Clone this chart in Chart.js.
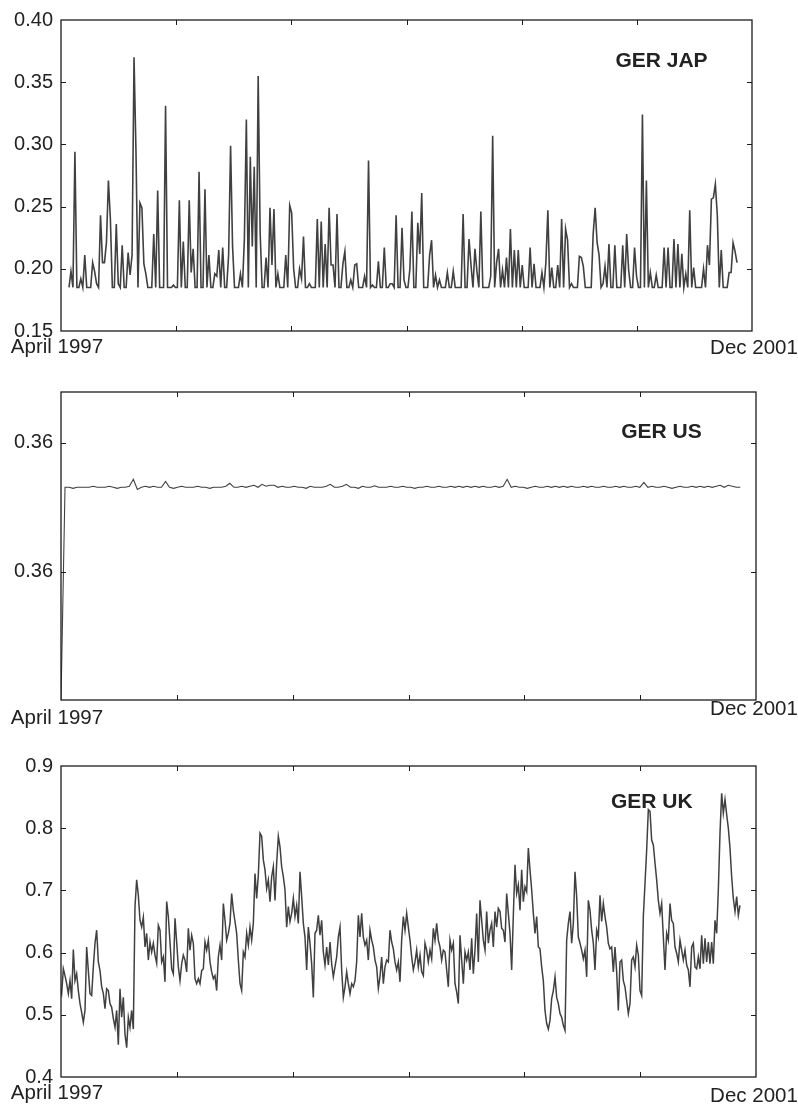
<!DOCTYPE html>
<html>
<head>
<meta charset="utf-8">
<script src="https://cdn.jsdelivr.net/npm/chart.js@4.4.1/dist/chart.umd.min.js"></script>
<style>
    html, body { margin: 0; padding: 0; background: #fff; }
    #page { position: relative; width: 798px; height: 1107px; }
    #page canvas { position: absolute; left: 0; }
</style>
</head>
<body>
<div id="page">
    <canvas id="jpChart" width="798" height="370" style="top:0"></canvas>
    <canvas id="usChart" width="798" height="360" style="top:370px"></canvas>
    <canvas id="ukChart" width="798" height="377" style="top:730px"></canvas>
</div>
<script>
// Correlation series, April 1997 - Dec 2001
const dateLabels = ['April 1997', 'Dec 2001'];

const jpTicks = [0.15, 0.20, 0.25, 0.30, 0.35, 0.40];
const usTicks = [0.3600, 0.3601];
const ukTicks = [0.4, 0.5, 0.6, 0.7, 0.8, 0.9];

const jpValues = [
    0.185,0.198,0.185,0.294,0.185,0.185,0.192,0.185,0.211,0.185,0.185,0.185,0.205,0.198,0.188,0.185,0.243,0.205,0.205,0.221,
    0.271,0.240,0.185,0.185,0.236,0.188,0.185,0.219,0.185,0.185,0.213,0.195,0.211,0.370,0.293,0.185,0.253,0.249,0.204,0.196,
    0.185,0.185,0.185,0.228,0.185,0.263,0.185,0.185,0.185,0.331,0.185,0.185,0.185,0.187,0.185,0.185,0.255,0.185,0.222,0.185,
    0.185,0.255,0.197,0.216,0.185,0.185,0.278,0.185,0.185,0.264,0.185,0.211,0.185,0.185,0.196,0.194,0.215,0.185,0.217,0.185,
    0.185,0.211,0.299,0.218,0.185,0.185,0.185,0.196,0.185,0.224,0.320,0.185,0.290,0.218,0.282,0.185,0.355,0.229,0.185,0.185,
    0.209,0.185,0.249,0.203,0.248,0.185,0.196,0.185,0.185,0.185,0.211,0.185,0.251,0.245,0.200,0.185,0.185,0.200,0.192,0.226,
    0.185,0.185,0.188,0.185,0.185,0.185,0.240,0.185,0.238,0.185,0.220,0.185,0.249,0.203,0.203,0.185,0.244,0.185,0.185,0.204,
    0.214,0.185,0.185,0.191,0.185,0.203,0.204,0.185,0.185,0.185,0.194,0.185,0.287,0.185,0.187,0.185,0.185,0.206,0.185,0.185,
    0.217,0.185,0.185,0.188,0.188,0.185,0.243,0.185,0.185,0.233,0.191,0.185,0.185,0.200,0.246,0.185,0.185,0.237,0.212,0.261,
    0.185,0.185,0.185,0.211,0.223,0.185,0.195,0.185,0.191,0.185,0.185,0.185,0.197,0.185,0.185,0.198,0.185,0.185,0.185,0.185,
    0.244,0.185,0.185,0.224,0.203,0.185,0.216,0.198,0.185,0.246,0.185,0.185,0.185,0.185,0.194,0.307,0.185,0.205,0.216,0.185,
    0.199,0.185,0.209,0.185,0.232,0.185,0.215,0.185,0.215,0.185,0.203,0.185,0.185,0.185,0.217,0.185,0.204,0.185,0.185,0.185,
    0.197,0.185,0.205,0.247,0.185,0.201,0.185,0.185,0.203,0.185,0.240,0.185,0.232,0.223,0.185,0.188,0.185,0.185,0.185,0.210,
    0.209,0.202,0.185,0.185,0.185,0.185,0.228,0.249,0.221,0.211,0.185,0.188,0.202,0.185,0.220,0.185,0.185,0.219,0.185,0.185,
    0.185,0.219,0.185,0.228,0.199,0.185,0.185,0.217,0.194,0.185,0.185,0.324,0.185,0.271,0.185,0.197,0.185,0.185,0.195,0.185,
    0.185,0.185,0.217,0.185,0.217,0.185,0.185,0.224,0.185,0.220,0.185,0.212,0.185,0.196,0.185,0.247,0.185,0.201,0.185,0.185,
    0.185,0.185,0.200,0.185,0.219,0.203,0.256,0.257,0.268,0.243,0.185,0.215,0.185,0.185,0.185,0.197,0.197,0.221,0.214,0.205
];

const usValues = [
    0.3599000,0.3600654,0.3600654,0.3600646,0.3600654,0.3600654,0.3600654,0.3600654,0.3600662,0.3600654,
    0.3600654,0.3600654,0.3600662,0.3600654,0.3600646,0.3600654,0.3600654,0.3600662,0.3600716,0.3600638,
    0.3600654,0.3600662,0.3600654,0.3600662,0.3600654,0.3600654,0.3600700,0.3600654,0.3600646,0.3600654,
    0.3600662,0.3600654,0.3600654,0.3600654,0.3600662,0.3600654,0.3600654,0.3600646,0.3600654,0.3600654,
    0.3600654,0.3600662,0.3600685,0.3600654,0.3600654,0.3600662,0.3600654,0.3600662,0.3600670,0.3600654,
    0.3600677,0.3600662,0.3600670,0.3600670,0.3600654,0.3600662,0.3600654,0.3600654,0.3600662,0.3600654,
    0.3600654,0.3600646,0.3600662,0.3600654,0.3600654,0.3600654,0.3600662,0.3600677,0.3600654,0.3600654,
    0.3600662,0.3600677,0.3600654,0.3600654,0.3600646,0.3600662,0.3600654,0.3600654,0.3600666,0.3600654,
    0.3600654,0.3600654,0.3600662,0.3600654,0.3600654,0.3600662,0.3600654,0.3600654,0.3600646,0.3600654,
    0.3600654,0.3600662,0.3600654,0.3600654,0.3600662,0.3600654,0.3600654,0.3600662,0.3600654,0.3600662,
    0.3600654,0.3600662,0.3600654,0.3600662,0.3600654,0.3600662,0.3600654,0.3600654,0.3600662,0.3600654,
    0.3600662,0.3600716,0.3600654,0.3600662,0.3600654,0.3600654,0.3600646,0.3600654,0.3600662,0.3600654,
    0.3600654,0.3600662,0.3600654,0.3600662,0.3600654,0.3600662,0.3600654,0.3600662,0.3600654,0.3600654,
    0.3600662,0.3600654,0.3600662,0.3600654,0.3600654,0.3600662,0.3600654,0.3600654,0.3600662,0.3600654,
    0.3600662,0.3600654,0.3600654,0.3600662,0.3600654,0.3600693,0.3600654,0.3600662,0.3600654,0.3600654,
    0.3600662,0.3600654,0.3600646,0.3600654,0.3600662,0.3600654,0.3600654,0.3600662,0.3600654,0.3600662,
    0.3600654,0.3600662,0.3600654,0.3600662,0.3600670,0.3600654,0.3600670,0.3600662,0.3600654,0.3600654
];

const ukValues = [
    0.545,0.534,0.574,0.563,0.550,0.534,0.555,0.526,0.605,0.555,
    0.566,0.539,0.518,0.504,0.488,0.507,0.609,0.571,0.534,0.531,
    0.577,0.615,0.636,0.585,0.571,0.545,0.534,0.510,0.542,0.539,
    0.518,0.512,0.494,0.480,0.507,0.452,0.542,0.496,0.528,0.469,
    0.447,0.496,0.480,0.507,0.477,0.674,0.717,0.692,0.652,0.641,
    0.657,0.609,0.631,0.588,0.617,0.601,0.615,0.596,0.583,0.644,
    0.636,0.585,0.593,0.553,0.682,0.658,0.617,0.574,0.566,0.655,
    0.617,0.577,0.555,0.582,0.596,0.588,0.569,0.639,0.604,0.628,
    0.615,0.558,0.550,0.558,0.550,0.571,0.574,0.617,0.604,0.620,
    0.585,0.569,0.558,0.563,0.539,0.593,0.612,0.588,0.679,0.652,
    0.620,0.631,0.647,0.695,0.668,0.650,0.631,0.588,0.550,0.539,
    0.601,0.593,0.631,0.612,0.641,0.620,0.647,0.727,0.687,0.725,
    0.792,0.787,0.749,0.733,0.703,0.717,0.682,0.722,0.738,0.684,
    0.744,0.787,0.770,0.738,0.722,0.701,0.641,
    0.674,0.650,0.663,0.687,0.658,0.676,0.647,0.730,0.690,0.647,0.625,0.572,
    0.641,0.615,0.582,0.528,0.631,0.636,0.660,0.628,0.652,0.601,0.580,
    0.609,0.580,0.617,0.582,0.561,0.577,0.593,0.625,0.641,0.572,0.528,0.545,0.569,0.550,0.534,0.550,0.545,0.555,0.585,
    0.660,0.625,0.663,0.625,0.612,0.620,0.588,
    0.636,0.620,0.609,0.588,0.577,0.542,0.561,0.593,0.550,0.577,0.588,0.585,0.636,0.617,0.606,0.585,0.572,0.585,0.553,0.620,
    0.658,0.636,
    0.663,0.641,0.620,0.593,0.572,0.585,0.604,0.577,0.596,0.569,0.563,0.615,0.604,0.585,0.604,0.590,0.639,0.620,0.647,0.620,
    0.609,0.588,0.604,0.601,0.572,0.545,0.620,0.604,0.615,0.550,0.537,0.518,0.628,0.588,0.550,0.601,0.588,0.601,0.572,0.623,
    0.566,0.604,0.663,0.585,
    0.684,0.652,0.620,0.604,0.666,0.615,0.636,0.647,0.609,0.666,0.641,0.671,0.666,0.639,0.636,0.617,0.695,0.663,0.631,
    0.572,0.660,0.741,0.695,
    0.709,0.668,0.733,0.682,0.706,0.698,0.768,0.733,0.701,0.663,0.631,0.658,0.609,0.606,0.577,0.555,0.507,0.486,0.477,0.491,
    0.526,0.539,0.561,0.528,0.518,0.502,0.496,0.483,0.475,
    0.620,0.647,0.666,
    0.615,0.647,
    0.730,0.690,0.625,0.615,0.604,0.590,0.604,0.561,0.684,0.668,0.636,0.615,0.572,0.636,0.625,0.692,0.650,0.679,0.658,0.641,
    0.615,0.606,0.609,0.569,0.609,0.569,0.507,0.585,0.588,0.555,0.545,0.523,0.502,0.518,0.588,0.593,0.577,0.612,
    0.596,0.539,0.531,0.658,0.711,0.765,0.830,
    0.827,0.781,0.773,0.744,0.717,0.684,
    0.663,
    0.679,0.625,0.572,0.631,0.620,0.679,0.652,0.647,0.609,0.599,0.585,0.620,0.604,0.588,0.604,0.580,0.572,
    0.545,
    0.609,0.615,0.577,0.574,0.593,
    0.574,0.628,0.582,0.623,
    0.585,0.617,0.582,0.617,0.582,0.652,0.631,
    0.701,0.792,0.856,0.824,0.846,
    0.822,0.800,0.768,0.722,0.687,0.666,0.690,0.660,0.676
];

const FONT = '"Liberation Sans", Arial, sans-serif';
const LINE_COLOR = '#404040';

// box, inward tick marks, end date labels and panel title
const framePlugin = {
    id: 'frame',
    afterDraw(chart, args, opts) {
        const { ctx, chartArea: a } = chart;
        const x = chart.scales.x;
        const y = chart.scales.y;
        ctx.save();
        ctx.strokeStyle = '#1c1c1c';
        ctx.lineWidth = 1.3;
        ctx.strokeRect(a.left, a.top, a.right - a.left, a.bottom - a.top);

        ctx.lineWidth = 1;
        ctx.beginPath();
        x.ticks.forEach((t, i) => {
            if (i === 0 || i === x.ticks.length - 1) return;
            const px = Math.round(x.getPixelForValue(t.value)) + 0.5;
            ctx.moveTo(px, a.top); ctx.lineTo(px, a.top + 5);
            ctx.moveTo(px, a.bottom); ctx.lineTo(px, a.bottom - 5);
        });
        y.ticks.forEach(t => {
            const py = Math.round(y.getPixelForValue(t.value)) + 0.5;
            if (py < a.top + 2 || py > a.bottom - 2) return;
            ctx.moveTo(a.left, py); ctx.lineTo(a.left + 5, py);
            ctx.moveTo(a.right, py); ctx.lineTo(a.right - 5, py);
        });
        ctx.stroke();

        ctx.fillStyle = '#222';
        ctx.textAlign = 'center';
        ctx.textBaseline = 'middle';
        ctx.font = '20.5px ' + FONT;
        const first = x.ticks[0].value;
        const last = x.ticks[x.ticks.length - 1].value;
        ctx.fillText(dateLabels[0], x.getPixelForValue(first) - 4, a.bottom + opts.firstOffset);
        ctx.fillText(dateLabels[1], x.getPixelForValue(last) + opts.lastDx, a.bottom + opts.lastOffset);

        ctx.font = 'bold 21px ' + FONT;
        ctx.fillText(opts.title,
            a.left + opts.tx * (a.right - a.left),
            a.top + opts.ty * (a.bottom - a.top));
        ctx.restore();
    }
};

function makePanel(id, values, yTicks, decimals, xRange, padding, lineWidth, frame) {
    const steps = values.map((v, i) => i);
    return new Chart(document.getElementById(id), {
        type: 'line',
        data: {
            labels: steps,
            datasets: [{
                data: values,
                borderColor: LINE_COLOR,
                borderWidth: lineWidth,
                pointRadius: 0,
                tension: 0,
                fill: false
            }]
        },
        options: {
            responsive: false,
            animation: false,
            devicePixelRatio: 1,
            layout: { padding: padding },
            plugins: {
                legend: { display: false },
                tooltip: { enabled: false },
                frame: frame
            },
            scales: {
                x: {
                    type: 'linear',
                    min: xRange[0],
                    max: xRange[1],
                    afterBuildTicks: s => {
                        const n = 6;
                        const ticks = [];
                        for (let i = 0; i <= n; i++) {
                            ticks.push({ value: s.min + (s.max - s.min) * i / n });
                        }
                        s.ticks = ticks;
                    },
                    ticks: { display: false },
                    grid: { display: false, drawTicks: false },
                    border: { display: false },
                    afterFit: s => { s.height = 0; }
                },
                y: {
                    min: yTicks[0] === 0.3600 ? 0.3599005 : yTicks[0],
                    max: yTicks[0] === 0.3600 ? 0.3601393 : yTicks[yTicks.length - 1],
                    afterBuildTicks: s => { s.ticks = yTicks.map(v => ({ value: v })); },
                    ticks: {
                        color: '#222',
                        padding: 8,
                        font: { family: FONT, size: 20 },
                        callback: v => Number(v).toFixed(decimals)
                    },
                    grid: { display: false, drawTicks: false },
                    border: { display: false },
                    afterFit: s => { s.width = 61; }
                }
            }
        },
        plugins: [framePlugin]
    });
}

makePanel('jpChart', jpValues, jpTicks, 2, [-4.06, 346.6],
    { top: 20, right: 46, bottom: 39, left: 0 }, 1.6,
    { title: 'GER JAP', tx: 0.869, ty: 0.134, firstOffset: 16, lastOffset: 17, lastDx: 2 });

makePanel('usChart', usValues, usTicks, 2, [0, 172.9],
    { top: 22, right: 42, bottom: 30, left: 0 }, 1.1,
    { title: 'GER US', tx: 0.864, ty: 0.131, firstOffset: 18, lastOffset: 9, lastDx: -2 });

makePanel('ukChart', ukValues, ukTicks, 1, [0.6, 417.6],
    { top: 36, right: 42, bottom: 30, left: 0 }, 1.5,
    { title: 'GER UK', tx: 0.850, ty: 0.117, firstOffset: 16, lastOffset: 19, lastDx: -2 });
</script>
</body>
</html>
